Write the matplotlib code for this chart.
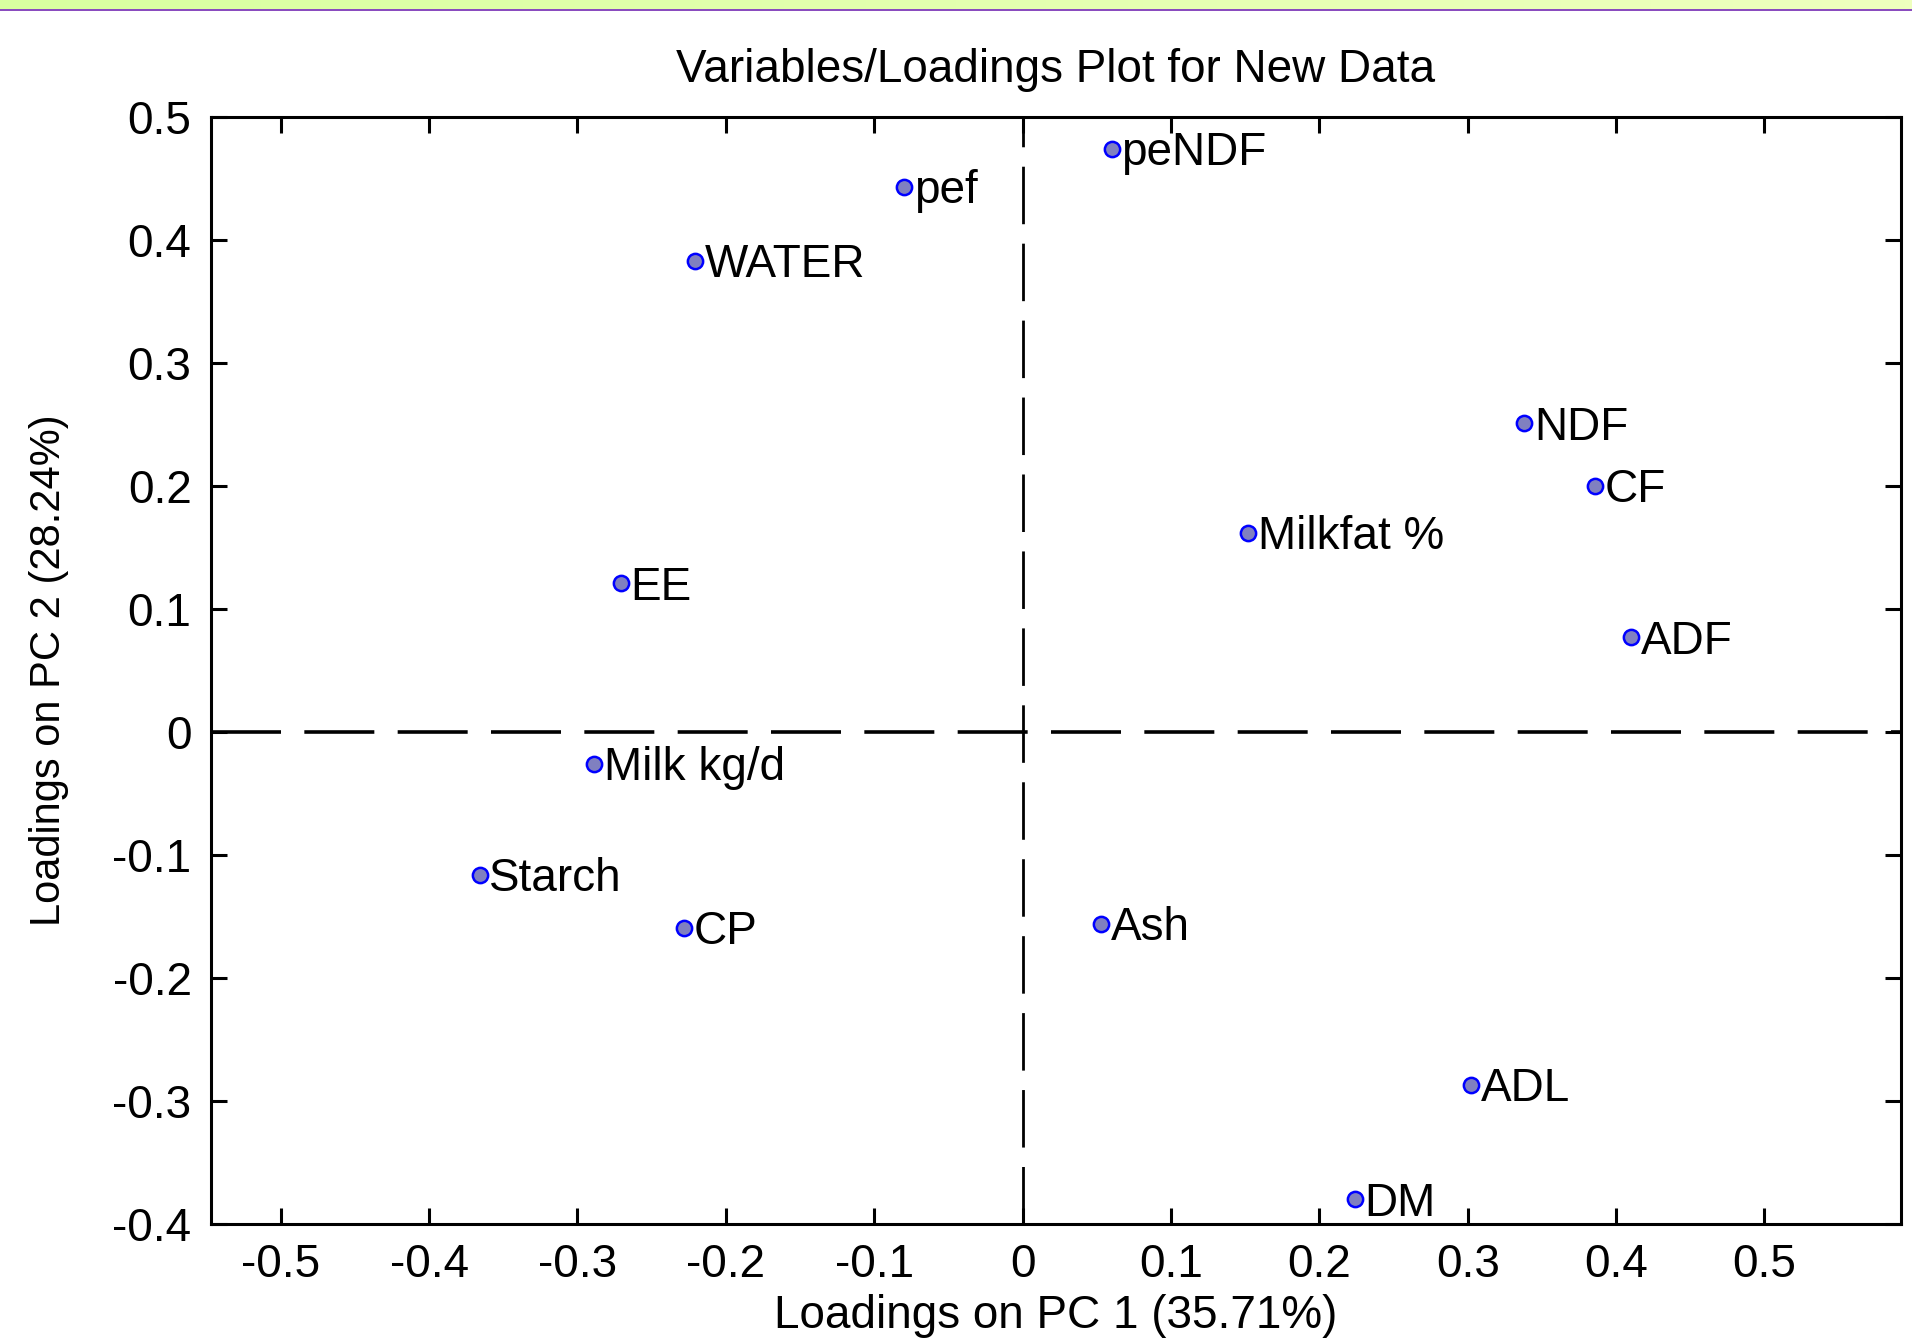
import matplotlib
matplotlib.use("Agg")
import matplotlib.pyplot as plt
import numpy as np
from matplotlib.colors import LinearSegmentedColormap
from matplotlib.ticker import FuncFormatter

# PCA loadings
variables = ["peNDF", "pef", "WATER", "NDF", "CF", "Milkfat %", "EE", "ADF",
             "Milk kg/d", "Starch", "CP", "Ash", "ADL", "DM"]
pc1 = [0.060, -0.080, -0.221, 0.338, 0.386, 0.152, -0.271, 0.410,
       -0.289, -0.366, -0.228, 0.053, 0.302, 0.224]
pc2 = [0.474, 0.443, 0.383, 0.251, 0.200, 0.162, 0.121, 0.077,
       -0.026, -0.116, -0.159, -0.156, -0.287, -0.380]

x_ticks = [-0.5, -0.4, -0.3, -0.2, -0.1, 0, 0.1, 0.2, 0.3, 0.4, 0.5]
y_ticks = [-0.4, -0.3, -0.2, -0.1, 0, 0.1, 0.2, 0.3, 0.4, 0.5]
x_lim = (-0.547, 0.592)
y_lim = (-0.4, 0.5)

plt.rcParams["font.family"] = ["Liberation Sans", "DejaVu Sans"]
plt.rcParams["axes.unicode_minus"] = False
plt.rcParams["lines.scale_dashes"] = False

W, H = 1912, 1341
fs = 33
fig = plt.figure(figsize=(W / 100, H / 100), dpi=100)
fig.patch.set_facecolor("white")

# green strip with purple rule at the very top
band = fig.add_axes([0, 1 - 9 / H, 1, 9 / H])
cmap = LinearSegmentedColormap.from_list("band", ["#d8ffa0", "#eeffbe"])
band.imshow(np.linspace(0, 1, 256)[None, :], aspect="auto", cmap=cmap)
band.axis("off")
rule = fig.add_axes([0, 1 - 11 / H, 1, 2 / H])
rule.set_facecolor("#8a4cbf")
rule.set_xticks([])
rule.set_yticks([])
for s in rule.spines.values():
    s.set_visible(False)

ax = fig.add_axes([211 / W, 1 - 1224 / H, (1901 - 211) / W, (1224 - 117) / H])

# zero lines (vertical drawn bottom-up, horizontal left-right)
ax.plot([0, 0], [y_lim[0], y_lim[1]], color="black", lw=2.0,
        linestyle=(0, (41.4, 14.0)), zorder=1)
ax.plot([x_lim[0], x_lim[1]], [0, 0], color="black", lw=2.6,
        linestyle=(0, (50.4, 16.8)), zorder=1)

ax.plot(pc1, pc2, linestyle="none", marker="o", markersize=11,
        markerfacecolor="#8080c0", markeredgecolor="#0000ff",
        markeredgewidth=1.8, zorder=3)
for name, x, y in zip(variables, pc1, pc2):
    ax.annotate(name, (x, y), xytext=(7, -11.8), textcoords="offset points",
                ha="left", va="baseline", fontsize=fs, color="black")

ax.set_xlim(x_lim)
ax.set_ylim(y_lim)
ax.set_xticks(x_ticks)
ax.set_yticks(y_ticks)
fmt = FuncFormatter(lambda v, p: "0" if abs(v) < 1e-9 else f"{v:g}")
ax.xaxis.set_major_formatter(fmt)
ax.yaxis.set_major_formatter(fmt)
ax.tick_params(direction="in", length=11.5, width=2.2, labelsize=fs,
               top=True, right=True, pad=14)
for s in ax.spines.values():
    s.set_linewidth(2.2)

ax.set_title("Variables/Loadings Plot for New Data", fontsize=fs, pad=25)
ax.set_xlabel("Loadings on PC 1 (35.71%)", fontsize=fs, labelpad=5)
ax.set_ylabel("Loadings on PC 2 (28.24%)", fontsize=30, labelpad=31)

fig.savefig("out.png", dpi=100)
